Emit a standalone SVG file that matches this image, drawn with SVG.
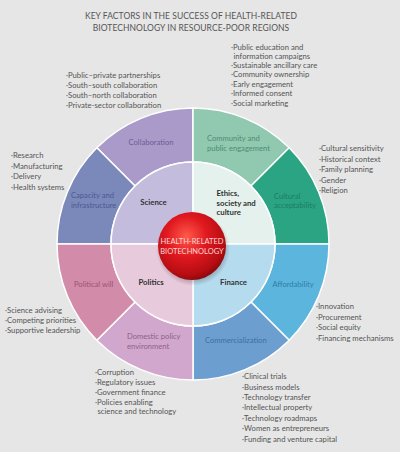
<svg xmlns="http://www.w3.org/2000/svg" width="400" height="452" viewBox="0 0 400 452">
<defs>
<style>
.t{font-family:Lato,"Open Sans","Liberation Sans",sans-serif;}
.title{font-size:8.5px;fill:#555;text-anchor:middle;letter-spacing:0.05px}
.li{font-size:7.7px;fill:#555}
.seg{font-size:7.6px}
.in{font-size:7.8px;font-weight:700;fill:#333}
.ctr{font-size:7.5px;fill:#fbd6d4;text-anchor:middle}
.sec{stroke:#fff;stroke-width:1.5;stroke-linejoin:round}
</style>
<radialGradient id="sph" cx="0.42" cy="0.36" r="0.66">
<stop offset="0" stop-color="#ff5a4c"/>
<stop offset="0.45" stop-color="#e0191f"/>
<stop offset="0.85" stop-color="#b50d13"/>
<stop offset="1" stop-color="#8c080d"/>
</radialGradient>
<radialGradient id="shd" cx="0.5" cy="0.5" r="0.5">
<stop offset="0.8" stop-color="#000" stop-opacity="0.25"/>
<stop offset="1" stop-color="#000" stop-opacity="0"/>
</radialGradient>
</defs>
<rect width="400" height="452" fill="#e6e6e6"/>
<g class="t">
<text class="title" x="191" y="18.5">KEY FACTORS IN THE SUCCESS OF HEALTH-RELATED</text>
<text class="title" x="191" y="30.5">BIOTECHNOLOGY IN RESOURCE-POOR REGIONS</text>
</g>
<g id="collaboration" class="t">
<path class="sec" fill="#a99ac9" d="M193,108 A136,136 0 0 0 96.83,147.83 L135.02,186.02 A82,82 0 0 1 193,162 Z"/>
<text class="seg" x="151" y="145" fill="#6a5c96" text-anchor="middle">Collaboration</text>
<g class="li"><text x="66" y="77.5">·Public–private partnerships</text><text x="66" y="87.5">·South–south collaboration</text><text x="66" y="97.5">·South–north collaboration</text><text x="66" y="107.5">·Private-sector collaboration</text></g>
</g>
<g id="capacity" class="t">
<path class="sec" fill="#7b88ba" d="M96.83,147.83 A136,136 0 0 0 57,244 L111,244 A82,82 0 0 1 135.02,186.02 Z"/>
<text class="seg" fill="#4c5a90"><tspan x="71" y="197.5">Capacity and</tspan><tspan x="71" y="208">infrastructure</tspan></text>
<g class="li"><text x="11" y="158">·Research</text><text x="11" y="168.5">·Manufacturing</text><text x="11" y="179">·Delivery</text><text x="11" y="189.5">·Health systems</text></g>
</g>
<g id="community" class="t">
<path class="sec" fill="#90c9b0" d="M193,108 A136,136 0 0 1 289.17,147.83 L250.98,186.02 A82,82 0 0 0 193,162 Z"/>
<text class="seg" fill="#4f8c72"><tspan x="207" y="141">Community and</tspan><tspan x="207" y="150.5">public engagement</tspan></text>
<g class="li"><text x="231" y="49.5">·Public education and</text><text x="233.5" y="58.5">information campaigns</text><text x="231" y="67.5">·Sustainable ancillary care</text><text x="231" y="77">·Community ownership</text><text x="231" y="86.5">·Early engagement</text><text x="231" y="96">·Informed consent</text><text x="231" y="105.5">·Social marketing</text></g>
</g>
<g id="cultural" class="t">
<path class="sec" fill="#2ba483" d="M289.17,147.83 A136,136 0 0 1 329,244 L275,244 A82,82 0 0 0 250.98,186.02 Z"/>
<text class="seg" fill="#1e7d60"><tspan x="274" y="198.5">Cultural</tspan><tspan x="274" y="208">acceptability</tspan></text>
<g class="li"><text x="319" y="151">·Cultural sensitivity</text><text x="319" y="161.5">·Historical context</text><text x="319" y="172">·Family planning</text><text x="319" y="182.5">·Gender</text><text x="319" y="193">·Religion</text></g>
</g>
<g id="affordability" class="t">
<path class="sec" fill="#5cb5dd" d="M329,244 A136,136 0 0 1 289.17,340.17 L250.98,301.98 A82,82 0 0 0 275,244 Z"/>
<text class="seg" x="272.5" y="287" fill="#2e7ea8">Affordability</text>
<g class="li"><text x="316" y="309">·Innovation</text><text x="316" y="319.5">·Procurement</text><text x="316" y="330">·Social equity</text><text x="316" y="340.5">·Financing mechanisms</text></g>
</g>
<g id="commercialization" class="t">
<path class="sec" fill="#6c9fcf" d="M289.17,340.17 A136,136 0 0 1 193,380 L193,326 A82,82 0 0 0 250.98,301.98 Z"/>
<text class="seg" x="205" y="343" fill="#3e6f9f">Commercialization</text>
<g class="li"><text x="242" y="379">·Clinical trials</text><text x="242" y="389.5">·Business models</text><text x="242" y="400">·Technology transfer</text><text x="242" y="410">·Intellectual property</text><text x="242" y="420.5">·Technology roadmaps</text><text x="242" y="431">·Women as entrepreneurs</text><text x="242" y="441.5">·Funding and venture capital</text></g>
</g>
<g id="domestic" class="t">
<path class="sec" fill="#d2a7cd" d="M193,380 A136,136 0 0 1 96.83,340.17 L135.02,301.98 A82,82 0 0 0 193,326 Z"/>
<text class="seg" fill="#8f6189"><tspan x="127" y="338.5">Domestic policy</tspan><tspan x="127" y="348.5">environment</tspan></text>
<g class="li"><text x="95" y="375">·Corruption</text><text x="95" y="385">·Regulatory issues</text><text x="95" y="395">·Government finance</text><text x="95" y="404.5">·Policies enabling</text><text x="97.5" y="413.5">science and technology</text></g>
</g>
<g id="political" class="t">
<path class="sec" fill="#d28ba8" d="M96.83,340.17 A136,136 0 0 1 57,244 L111,244 A82,82 0 0 0 135.02,301.98 Z"/>
<text class="seg" x="74" y="287" fill="#9a5673">Political will</text>
<g class="li"><text x="5" y="312.5">·Science advising</text><text x="5" y="322.5">·Competing priorities</text><text x="5" y="333">·Supportive leadership</text></g>
</g>
<g id="science" class="t">
<path class="sec" fill="#c3bcdc" d="M193,244 L111,244 A82,82 0 0 1 193,162 Z"/>
<text class="in" x="153.5" y="205" text-anchor="middle">Science</text>
</g>
<g id="ethics" class="t">
<path class="sec" fill="#e5f1ec" d="M193,244 L193,162 A82,82 0 0 1 275,244 Z"/>
<text class="in"><tspan x="216.5" y="196">Ethics,</tspan><tspan x="216.5" y="205.5">society and</tspan><tspan x="216.5" y="214.5">culture</tspan></text>
</g>
<g id="finance" class="t">
<path class="sec" fill="#b5dbee" d="M193,244 L275,244 A82,82 0 0 1 193,326 Z"/>
<text class="in" x="233.5" y="284.5" text-anchor="middle">Finance</text>
</g>
<g id="politics" class="t">
<path class="sec" fill="#e8cadd" d="M193,244 L193,326 A82,82 0 0 1 111,244 Z"/>
<text class="in" x="151" y="284.5" text-anchor="middle">Politics</text>
</g>
<g id="core" class="t">
<circle cx="193" cy="249" r="37" fill="url(#shd)"/>
<circle cx="192" cy="246" r="34" fill="url(#sph)"/>
<text class="ctr"><tspan x="192" y="243.5">HEALTH-RELATED</tspan><tspan x="192" y="253.5">BIOTECHNOLOGY</tspan></text>
</g>
<g id="connectors"></g>
</svg>
